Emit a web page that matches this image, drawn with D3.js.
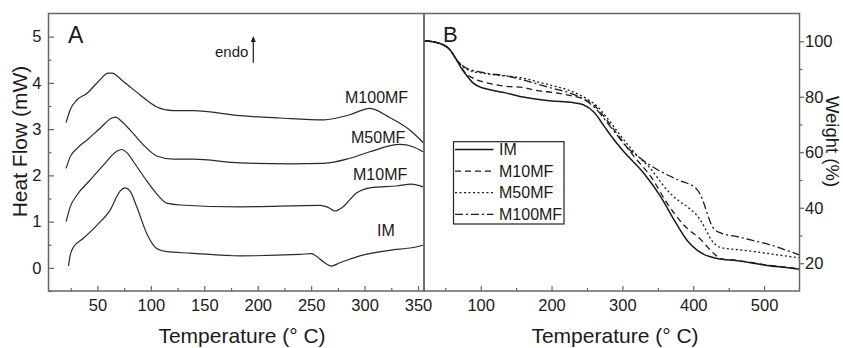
<!DOCTYPE html>
<html><head><meta charset="utf-8">
<script src="https://cdn.jsdelivr.net/npm/d3@7"></script>
<style>
html,body{margin:0;padding:0;background:#fff;}
svg{display:block;font-family:"Liberation Sans",Arial,Helvetica,sans-serif;}
</style></head>
<body>
<svg id="c" width="843" height="348"></svg>
<script>
// ---------- Panel A: DSC (temperature °C, heat flow mW) ----------
const dscIM = [[22.9,0.04],[24.5,0.27],[27.6,0.45],[36.9,0.64],[49.4,0.92],[61.9,1.25],[71.2,1.66],[75.9,1.73],[80.6,1.66],[86.8,1.32],[96.2,0.74],[105.5,0.42],[114.9,0.35],[136.6,0.32],[183.4,0.26],[239.4,0.29],[250.4,0.31],[255,0.25],[262,0.12],[269.1,0.04],[276.8,0.11],[295.5,0.26],[323.6,0.38],[345.3,0.44],[354.7,0.49]];
const dscM10 = [[20.7,1.0],[24.5,1.32],[30.7,1.57],[43.2,1.9],[55.6,2.22],[68.1,2.52],[72.8,2.56],[78,2.48],[83.6,2.3],[96.2,1.88],[105.5,1.6],[114.9,1.4],[127.3,1.36],[183.4,1.32],[258.1,1.35],[267.4,1.29],[272.1,1.23],[279.9,1.32],[292.4,1.62],[308,1.74],[329.8,1.77],[343.8,1.81],[354.7,1.75]];
const dscM50 = [[20.7,2.15],[24.5,2.4],[30.7,2.58],[40,2.76],[52.5,3.02],[63.5,3.24],[67,3.26],[72,3.18],[80.6,2.98],[93,2.66],[105.5,2.42],[121,2.35],[139.7,2.35],[183.4,2.27],[230,2.25],[262,2.26],[286.2,2.37],[304.9,2.51],[332.9,2.67],[345.3,2.62],[354.7,2.51]];
const dscM100 = [[20.7,3.14],[24.5,3.42],[30.7,3.63],[40,3.77],[50.9,4.03],[60.3,4.21],[63.5,4.21],[74.3,4.03],[89.9,3.74],[105.5,3.48],[121,3.4],[139.7,3.4],[183.4,3.29],[220.7,3.24],[262,3.2],[286.2,3.31],[304.9,3.45],[323.6,3.25],[342.3,2.98],[354.7,2.71]];
const dscSeries = ["IM","M10MF","M50MF","M100MF"];
const dscLabels = [["M100MF",345,103.3],["M50MF",351,142.7],["M10MF",353,180],["IM",377,236]];
const dscXTicks = [50,100,150,200,250,300,350];
const dscYTicks = [0,1,2,3,4,5];

// ---------- Panel B: TGA (temperature °C, weight %) ----------
const tgaIM = [[20,100.2],[40,99.4],[57,96.8],[66,93.3],[72,90.6],[81,87.4],[90,84.8],[100,83.4],[110,82.7],[135,81.4],[160,79.9],[200,78.5],[230,77.9],[245,77.1],[260,74.4],[274,69.5],[285,65.6],[300,60.8],[330,52.5],[354,44.0],[373,35.6],[392,28.0],[405,24.8],[415,23.2],[434,21.7],[462,20.9],[481,20.2],[500,19.4],[542,18.1],[550,17.8]];
const tgaM10 = [[20,100.2],[40,99.4],[57,96.8],[66,93.3],[71,91.6],[76,89.3],[90,86.6],[100,85.6],[110,84.9],[135,83.8],[160,83.3],[180,82.2],[203,81.5],[227,80.4],[245,79.2],[260,76.9],[275,72.6],[292,66.8],[316,58.6],[340,51.3],[363,41.7],[387,33.7],[410,28.7],[429,23.5],[440,21.6],[462,21.0],[481,20.3],[500,19.5],[542,18.2],[550,17.9]];
const tgaM50 = [[20,100.2],[40,99.4],[57,96.8],[66,93.3],[71,91.8],[76,90.6],[90,89.0],[100,88.6],[110,88.2],[135,87.5],[156,86.9],[180,85.4],[203,83.9],[227,82.1],[250,79.2],[265,76.4],[278,72.5],[295,66.8],[316,60.2],[340,54.0],[363,46.4],[380,42.4],[392,40.3],[410,35.6],[418,32.0],[425,28.6],[432,26.6],[440,25.6],[462,24.9],[481,24.4],[500,23.7],[542,22.2],[550,21.9]];
const tgaM100 = [[20,100.2],[40,99.4],[57,96.8],[66,93.4],[71,92.0],[76,90.9],[90,89.4],[100,88.9],[110,88.4],[135,87.6],[156,86.3],[180,84.6],[203,82.9],[227,81.2],[250,78.4],[265,75.0],[279,70.5],[295,65.4],[307,61.6],[318,59.3],[330,56.9],[345,54.4],[363,51.9],[382,49.7],[396,48.3],[404,47.0],[410,44.8],[415,41.6],[420,37.8],[425,34.2],[430,32.2],[440,30.8],[462,29.6],[481,28.4],[509,26.6],[530,24.8],[550,23.0]];
const tgaSeries = ["IM","M10MF","M50MF","M100MF"];
const tgaDash = ["none","6,4","2,2.5","8,3,2,3"];
const tgaXTicks = [100,200,300,400,500];
const tgaYTicks = [20,40,60,80,100];

const svg = d3.select("#c");
const ink = "#1a1a1a", frame = "#666";
const tickFont = "16.5px";

// scales
const xA = d3.scaleLinear().domain([4.2,355.6]).range([48.5,424]);
const yA = d3.scaleLinear().domain([-0.5,5.5]).range([291,13.5]);
const xB = d3.scaleLinear().domain([20,550]).range([424,799.5]);
const yB = d3.scaleLinear().domain([10,110]).range([291,13.5]);

function frameRect(x0,x1,y0,y1){
  svg.append("rect").attr("x",x0).attr("y",y0).attr("width",x1-x0).attr("height",y1-y0)
    .attr("fill","none").attr("stroke",frame).attr("stroke-width",1.5);
}

// ---- Panel A axes
const gA = svg.append("g");
const axA_x = d3.axisBottom(xA).tickValues(dscXTicks).tickSize(-5).tickPadding(8).tickFormat(d3.format("d"));
const axA_xm = d3.axisBottom(xA).tickValues(d3.range(25,351,25).filter(v=>v%50)).tickSize(-3).tickFormat("");
const axA_y = d3.axisLeft(yA).tickValues(dscYTicks).tickSize(-5.5).tickPadding(7).tickFormat(d3.format("d"));
const axA_ym = d3.axisLeft(yA).tickValues(d3.range(-0.5,5.01,0.5).filter(v=>Math.abs(v%1)>0.1)).tickSize(-3).tickFormat("");
[[axA_x,"translate(0,291)"],[axA_xm,"translate(0,291)"],[axA_y,"translate(48.5,0)"],[axA_ym,"translate(48.5,0)"]].forEach(([a,t])=>{
  const g = gA.append("g").attr("transform",t).call(a);
  g.select(".domain").remove();
  g.selectAll("line").attr("stroke",frame).attr("stroke-width",1.2);
  g.selectAll("text").attr("fill",ink).style("font-size",tickFont).style("font-family","'Liberation Sans',Arial,sans-serif");
});

// ---- Panel B axes
const gB = svg.append("g");
const axB_x = d3.axisBottom(xB).tickValues(tgaXTicks).tickSize(-5).tickPadding(8).tickFormat(d3.format("d"));
const axB_xm = d3.axisBottom(xB).tickValues([50,150,250,350,450]).tickSize(-3).tickFormat("");
const axB_y = d3.axisRight(yB).tickValues(tgaYTicks).tickSize(4.5).tickPadding(1).tickFormat(d3.format("d"));
const axB_ym = d3.axisRight(yB).tickValues([30,50,70,90]).tickSize(3).tickFormat("");
[[axB_x,"translate(0,291)"],[axB_xm,"translate(0,291)"],[axB_y,"translate(799.5,0)"],[axB_ym,"translate(799.5,0)"]].forEach(([a,t])=>{
  const g = gB.append("g").attr("transform",t).call(a);
  g.select(".domain").remove();
  g.selectAll("line").attr("stroke",frame).attr("stroke-width",1.2);
  g.selectAll("text").attr("fill",ink).style("font-size",tickFont).style("font-family","'Liberation Sans',Arial,sans-serif");
});

// ---- curves A
const lineA = d3.line().x(d=>xA(d[0])).y(d=>yA(d[1])).curve(d3.curveMonotoneX);
[dscIM,dscM10,dscM50,dscM100].forEach(s=>{
  svg.append("path").attr("d",lineA(s)).attr("fill","none").attr("stroke","#2a2a2a").attr("stroke-width",1.2);
});
dscLabels.forEach(([t,x,y])=>{
  svg.append("text").attr("x",x).attr("y",y).attr("fill",ink).style("font-size","16px").text(t);
});

// ---- curves B
const lineB = d3.line().x(d=>xB(d[0])).y(d=>yB(d[1])).curve(d3.curveMonotoneX);
[tgaIM,tgaM10,tgaM50,tgaM100].forEach((s,i)=>{
  svg.append("path").attr("d",lineB(s)).attr("fill","none").attr("stroke","#1a1a1a")
    .attr("stroke-width",i===0?1.5:1.3).attr("stroke-dasharray",tgaDash[i]);
});

// frames
frameRect(48.5,424,13.5,291);
frameRect(424,799.5,13.5,291);

// legend B
const lg = svg.append("g");
lg.append("rect").attr("x",453.5).attr("y",141.7).attr("width",110.5).attr("height",82.3)
  .attr("fill","#fff").attr("stroke","#222").attr("stroke-width",1.2);
tgaSeries.forEach((s,i)=>{
  const yy = 149.5 + i*21.6;
  lg.append("line").attr("x1",455).attr("x2",493.5).attr("y1",yy).attr("y2",yy)
    .attr("stroke","#1a1a1a").attr("stroke-width",i===0?1.5:1.3).attr("stroke-dasharray",tgaDash[i]);
  lg.append("text").attr("x",499).attr("y",yy+5.6).attr("fill",ink).style("font-size","16px").text(s);
});

// panel letters and annotations
svg.append("text").attr("x",68).attr("y",42.7).attr("fill",ink).style("font-size","23px").text("A");
svg.append("text").attr("x",443).attr("y",42).attr("fill",ink).style("font-size","22px").text("B");
svg.append("text").attr("x",215).attr("y",56.5).attr("fill",ink).style("font-size","15px").text("endo");
svg.append("line").attr("x1",253.3).attr("x2",253.3).attr("y1",62.7).attr("y2",40).attr("stroke",ink).attr("stroke-width",1.2);
svg.append("path").attr("d","M250.8,42 L253.3,36 L255.8,42 Z").attr("fill",ink);

// axis titles
svg.append("text").attr("x",242).attr("y",343).attr("text-anchor","middle").attr("fill",ink).style("font-size","21px").text("Temperature (° C)");
svg.append("text").attr("x",615).attr("y",343).attr("text-anchor","middle").attr("fill",ink).style("font-size","21px").text("Temperature (° C)");
svg.append("text").attr("transform","translate(26.5,141.5) rotate(-90)").attr("text-anchor","middle").attr("fill",ink).style("font-size","21px").text("Heat Flow (mW)");
svg.append("text").attr("transform","translate(825.5,141.5) rotate(90)").attr("text-anchor","middle").attr("fill",ink).style("font-size","18.5px").text("Weight (%)");
</script>
</body></html>
